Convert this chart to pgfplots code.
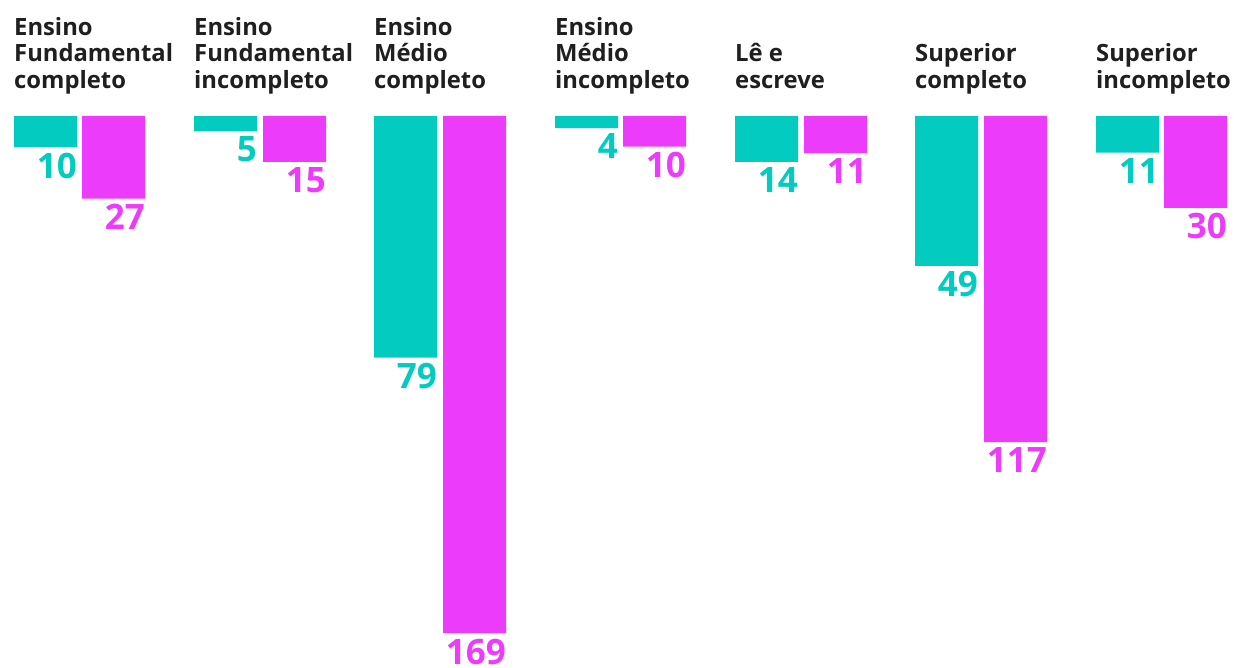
\documentclass[border=0pt]{standalone}
\usepackage{fontspec}
\setmainfont{Open Sans}
\usepackage{pgfplots}
\pgfplotsset{compat=1.18}
\definecolor{cteal}{HTML}{03CBBF}
\definecolor{cmag}{HTML}{EC3BFB}
\definecolor{ctext}{HTML}{1F1F1F}
\newcommand{\lab}[1]{\begin{tabular}[b]{@{}l@{}}#1\end{tabular}}
\begin{document}
\begin{tikzpicture}
\begin{axis}[
  x=1pt, y=3.06pt,
  xmin=0, xmax=1236, ymin=-37.9, ymax=180.4,
  y dir=reverse,
  hide axis, clip=false, scale only axis,
  ybar, bar width=63, bar shift=0pt,
  point meta=explicit,
  nodes near coords,
  /pgf/number format/assume math mode=true,
  every node near coord/.append style={anchor=north east, xshift=31.5pt, yshift=-5.5pt, inner sep=0pt,
     font=\fontsize{35}{40}\selectfont\bfseries},
]
\path (rel axis cs:0,0) rectangle (rel axis cs:1,1);
\addplot[fill=cteal, draw=none, every node near coord/.append style={text=cteal}] coordinates {
 (45.5,10.2)[10] (225.5,5)[5] (405.5,79)[79] (586.5,4)[4] (766.5,15.0)[14] (946.5,49)[49] (1127.5,12.0)[11]};
\addplot[fill=cmag, draw=none, every node near coord/.append style={text=cmag}] coordinates {
 (113.5,27)[27] (294.5,15)[15] (474.5,169)[169] (654.5,10)[10] (835.5,12.1)[11] (1015.5,106.6)[117] (1195.5,30)[30]};
\begin{scope}[every node/.style={anchor=base west, inner sep=0pt, text=ctext, font=\fontsize{23.8}{26.5}\selectfont\bfseries, yshift=27.7pt}]
\node at (axis cs:14,0) {\lab{Ensino\\Fundamental\\completo}};
\node at (axis cs:194,0) {\lab{Ensino\\Fundamental\\incompleto}};
\node at (axis cs:374,0) {\lab{Ensino\\Médio\\completo}};
\node at (axis cs:555,0) {\lab{Ensino\\Médio\\incompleto}};
\node at (axis cs:735,0) {\lab{Lê e\\escreve}};
\node at (axis cs:915,0) {\lab{Superior\\completo}};
\node at (axis cs:1096,0) {\lab{Superior\\incompleto}};
\end{scope}
\end{axis}
\end{tikzpicture}
\end{document}
